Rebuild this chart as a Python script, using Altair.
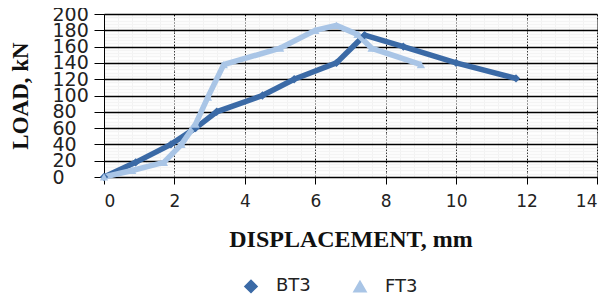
import altair as alt
import pandas as pd

bt3_x = [0, 0.9, 1.9, 2.6, 3.2, 4.5, 5.4, 6.6, 7.4, 8.5, 10.0, 11.7]
bt3_y = [0, 18, 40, 60, 80, 100, 120, 140, 174, 160, 140, 121]
ft3_x = [0, 0.8, 1.7, 2.2, 2.6, 2.95, 3.4, 5.0, 6.0, 6.6, 7.2, 7.6, 9.0]
ft3_y = [0, 8, 18, 40, 65, 98, 138, 158, 180, 186, 175, 158, 138]
series = ["BT3", "FT3"]
colors = ["#3b6aa6", "#a9c5e6"]

rows = []
for i, (x, y) in enumerate(zip(bt3_x, bt3_y)):
    rows.append({"s": "BT3", "x": x, "y": y, "o": i})
for i, (x, y) in enumerate(zip(ft3_x, ft3_y)):
    rows.append({"s": "FT3", "x": x, "y": y, "o": i})
df = pd.DataFrame(rows)

xvals = [round(0.4 * k, 2) for k in range(0, 36)]
yvals = list(range(0, 201, 4))

xmaj = "abs(datum.value/2 - round(datum.value/2)) < 0.001"
ymaj = "abs(datum.value/20 - round(datum.value/20)) < 0.001"

xaxis = alt.Axis(
    values=xvals,
    labelExpr=f"{xmaj} ? format(datum.value, 'd') : ''",
    labelOverlap=False,
    grid=True,
    gridColor={"condition": {"test": xmaj, "value": "#000000"}, "value": "#f2f2f2"},
    gridDash={"condition": {"test": xmaj, "value": [2, 1]}, "value": []},
    gridWidth=1,
    tickColor={"condition": {"test": xmaj, "value": "#000000"}, "value": "transparent"},
    tickSize=7,
    domainColor="#000000",
    labelFont="DejaVu Sans",
    labelFontSize=17,
    labelColor="#222222",
    labelPadding=9,
    title="DISPLACEMENT, mm",
    titleFont="Liberation Serif",
    titleFontSize=24,
    titleFontWeight="bold",
    titleColor="#111111",
    titlePadding=18,
)
yaxis = alt.Axis(
    values=yvals,
    labelExpr=f"{ymaj} ? format(datum.value, 'd') : ''",
    labelOverlap=False,
    grid=True,
    gridColor={"condition": {"test": ymaj, "value": "#000000"}, "value": "#f4f4f4"},
    gridWidth=1.5,
    tickColor={"condition": {"test": ymaj, "value": "#000000"}, "value": "transparent"},
    tickSize=10,
    domainColor="#000000",
    labelFont="DejaVu Sans",
    labelFontSize=19,
    labelColor="#222222",
    labelAlign="left",
    labelPadding=42,
    labelBound=False,
    labelFlush=False,
    title="LOAD, kN",
    titleFont="Liberation Serif",
    titleFontSize=23,
    titleFontWeight="bold",
    titleColor="#111111",
    titlePadding=20,
)

x = alt.X("x:Q", scale=alt.Scale(domain=[0, 14], nice=False), axis=xaxis)
y = alt.Y("y:Q", scale=alt.Scale(domain=[0, 200], nice=False), axis=yaxis)
color = alt.Color("s:N", scale=alt.Scale(domain=series, range=colors),
                  legend=alt.Legend(orient="none", direction="horizontal",
                                    legendX=138, legendY=263, title=None,
                                    labelFont="DejaVu Sans", labelFontSize=18,
                                    labelColor="#222222", symbolSize=150,
                                    labelOffset=16, columnPadding=39))
shape = alt.Shape("s:N", scale=alt.Scale(domain=series, range=["diamond", "triangle-up"]))

line = alt.Chart(df).mark_line(strokeWidth=5.5).encode(
    x=x, y=y, color=color, detail="s:N", order="o:Q")
pts = alt.Chart(df).mark_point(filled=True, size=70, opacity=1).encode(
    x=x, y=y, color=color, shape=shape)

chart = alt.layer(line, pts).properties(
    width=493, height=163,
    autosize=alt.AutoSizeParams(type="none"),
    padding={"left": 96, "top": 6, "right": 7, "bottom": 120},
).configure_view(fill="#d6d6d6", stroke=None).configure(background="white")

chart.save("out.html", embed_options={"renderer": "svg", "actions": False})
